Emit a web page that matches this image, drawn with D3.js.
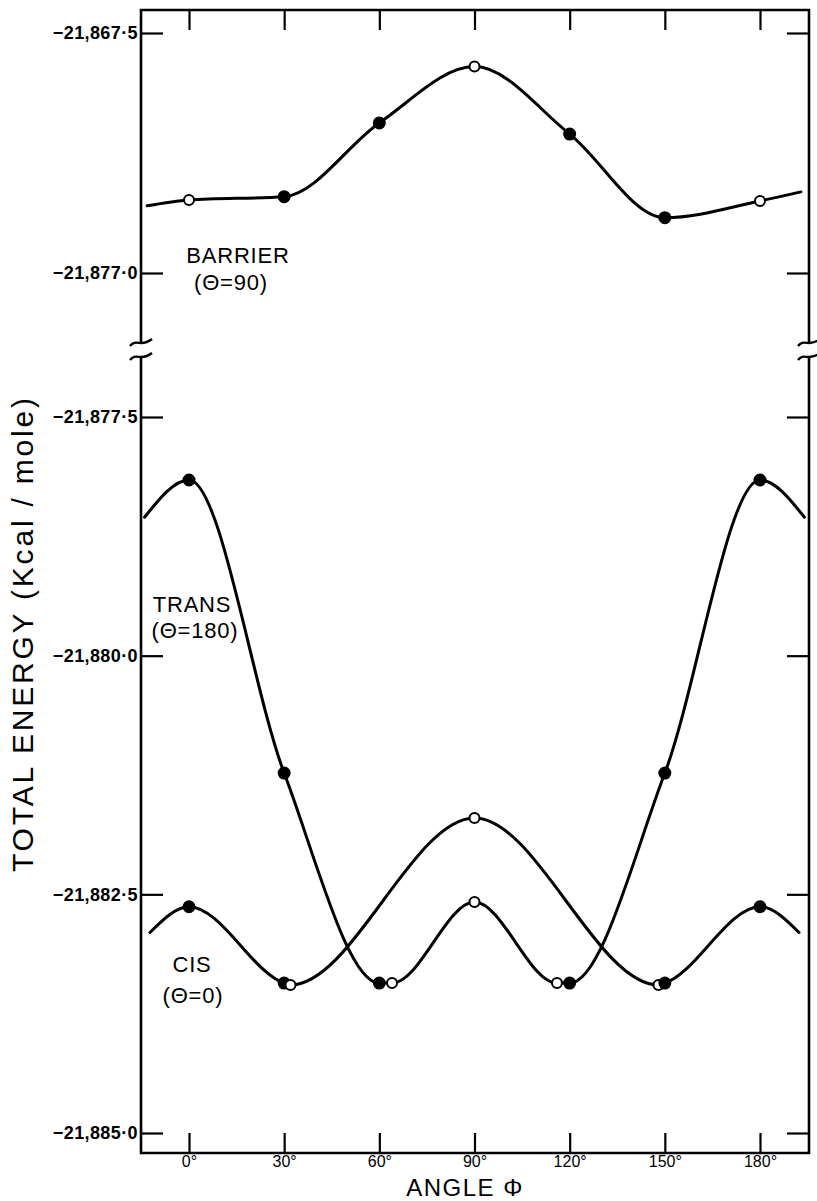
<!DOCTYPE html>
<html>
<head>
<meta charset="utf-8">
<script src="https://cdn.jsdelivr.net/npm/d3@7"></script>
<style>
  html, body { margin: 0; padding: 0; background: #fff; }
  svg { display: block; }
  text { font-family: "Liberation Sans", "DejaVu Sans", sans-serif; fill: #000; }
</style>
</head>
<body>
<svg id="chart" width="817" height="1201"></svg>
<script>
// Torsion angle phi (degrees) at which energies were computed
const angleTicks = [0, 30, 60, 90, 120, 150, 180];

// Energy axis ticks (kcal/mole) for the upper and lower panels
const topTicks = [-21867.5, -21877.0];
const bottomTicks = [-21877.5, -21880.0, -21882.5, -21885.0];

// BARRIER (theta = 90): computed points, open = true for hollow markers
const barrierAngle = [0, 30, 60, 90, 120, 150, 180];
const barrierEnergy = [-21874.11, -21873.98, -21871.06, -21868.83, -21871.50, -21874.81, -21874.15];
const barrierOpen = [true, false, false, true, false, false, true];
// where the drawn curve runs out past the end points
const barrierEndAngle = [-13.2, 192.9];
const barrierEndEnergy = [-21874.34, -21873.79];

// TRANS (theta = 180)
const transAngle = [0, 30, 60, 64, 90, 116, 120, 150, 180];
const transEnergy = [-21878.16, -21881.23, -21883.43, -21883.43, -21882.58, -21883.43, -21883.43, -21881.23, -21878.16];
const transOpen = [false, false, false, true, true, true, false, false, false];
const transEndAngle = [-14, 194];
const transEndEnergy = [-21878.55, -21878.55];

// CIS (theta = 0)
const cisAngle = [0, 30, 32, 90, 148, 150, 180];
const cisEnergy = [-21882.63, -21883.43, -21883.45, -21881.70, -21883.45, -21883.43, -21882.63];
const cisOpen = [false, false, true, true, true, false, false];
const cisEndAngle = [-12.3, 192.3];
const cisEndEnergy = [-21882.90, -21882.90];

// ---- layout ----
const svg = d3.select("#chart");
const frameL = 141, frameR = 809, frameT = 10, frameB = 1153;
const breakTop = 343, breakBottom = 357;

const x = d3.scaleLinear().domain([0, 180]).range([189, 760]);
const yTop = d3.scaleLinear().domain([-21877.0, -21867.5]).range([273, 33]);
const yBot = d3.scaleLinear().domain([-21885.0, -21877.5]).range([1133, 417]);

const fmt = v => d3.format(",.1f")(v).replace(".", "\u00b7");

// ---- frame with axis break ----
const frame = svg.append("g").attr("stroke", "#000").attr("stroke-width", 2.6).attr("fill", "none");
frame.append("path").attr("d", `M${frameL},${breakTop} V${frameT} H${frameR} V${breakTop}`);
frame.append("path").attr("d", `M${frameL},${breakBottom} V${frameB} H${frameR} V${breakBottom}`);

// break marks (small tildes across each vertical axis)
function tilde(cx, cy) {
  return `M${cx - 11},${cy + 3} C${cx - 5},${cy - 5} ${cx},${cy + 5} ${cx + 11},${cy - 4}`;
}
[frameL, frameR].forEach(cx => {
  frame.append("path").attr("d", tilde(cx, breakTop)).attr("stroke-width", 2.4);
  frame.append("path").attr("d", tilde(cx, breakBottom)).attr("stroke-width", 2.4);
});

// ---- axes (inward ticks) ----
function styleAxis(g) {
  g.select(".domain").remove();
  g.selectAll(".tick line").attr("stroke", "#000").attr("stroke-width", 2.2);
}

const leftLabelStyle = g => g.selectAll(".tick text")
  .attr("font-size", 18).attr("font-weight", "bold").attr("letter-spacing", 0.4)
  .attr("font-family", "Liberation Sans, DejaVu Sans, sans-serif");

svg.append("g").attr("transform", `translate(${frameL},0)`)
  .call(d3.axisLeft(yTop).tickValues(topTicks).tickSize(-22).tickPadding(3).tickFormat(fmt))
  .call(styleAxis).call(leftLabelStyle);
svg.append("g").attr("transform", `translate(${frameL},0)`)
  .call(d3.axisLeft(yBot).tickValues(bottomTicks).tickSize(-22).tickPadding(3).tickFormat(fmt))
  .call(styleAxis).call(leftLabelStyle);

svg.append("g").attr("transform", `translate(${frameR},0)`)
  .call(d3.axisRight(yTop).tickValues(topTicks).tickSize(-22).tickFormat(""))
  .call(styleAxis);
svg.append("g").attr("transform", `translate(${frameR},0)`)
  .call(d3.axisRight(yBot).tickValues(bottomTicks).tickSize(-22).tickFormat(""))
  .call(styleAxis);

svg.append("g").attr("transform", `translate(0,${frameT})`)
  .call(d3.axisTop(x).tickValues(angleTicks).tickSize(-20).tickFormat(""))
  .call(styleAxis);
svg.append("g").attr("transform", `translate(0,${frameB})`)
  .call(d3.axisBottom(x).tickValues(angleTicks).tickSize(-20).tickPadding(3).tickFormat(d => d + "\u00b0"))
  .call(styleAxis)
  .call(g => g.selectAll(".tick text").attr("font-size", 16)
    .attr("font-family", "Liberation Sans, DejaVu Sans, sans-serif"));

// ---- axis titles ----
svg.append("text")
  .attr("x", 465).attr("y", 1195.5)
  .attr("text-anchor", "middle")
  .attr("font-size", 24)
  .attr("letter-spacing", 1.5)
  .text("ANGLE  \u03a6");

svg.append("text")
  .attr("transform", "translate(33,635) rotate(-90)")
  .attr("text-anchor", "middle")
  .attr("font-size", 30)
  .attr("textLength", 474).attr("lengthAdjust", "spacing")
  .text("TOTAL  ENERGY  (Kcal / mole)");

// ---- curves and markers ----
function series(angles, energies, opens, endA, endE, y) {
  const pts = angles.map((a, i) => ({ a, e: energies[i], open: opens[i] }));
  const path = [{ a: endA[0], e: endE[0] }, ...pts, { a: endA[1], e: endE[1] }];
  const line = d3.line().x(d => x(d.a)).y(d => y(d.e)).curve(d3.curveMonotoneX);
  svg.append("path").datum(path)
    .attr("d", line)
    .attr("fill", "none").attr("stroke", "#000").attr("stroke-width", 3)
    .attr("stroke-linecap", "round");
  svg.append("g").selectAll("circle").data(pts).join("circle")
    .attr("cx", d => x(d.a)).attr("cy", d => y(d.e))
    .attr("r", d => d.open ? 5 : 5.5)
    .attr("fill", d => d.open ? "#fff" : "#000")
    .attr("stroke", "#000").attr("stroke-width", 2);
}

series(barrierAngle, barrierEnergy, barrierOpen, barrierEndAngle, barrierEndEnergy, yTop);
series(transAngle, transEnergy, transOpen, transEndAngle, transEndEnergy, yBot);
series(cisAngle, cisEnergy, cisOpen, cisEndAngle, cisEndEnergy, yBot);

// ---- curve labels ----
const labels = [
  { t: "BARRIER", x: 238, y: 263 },
  { t: "(\u0398=90)", x: 231, y: 290 },
  { t: "TRANS", x: 192, y: 612 },
  { t: "(\u0398=180)", x: 195, y: 638 },
  { t: "CIS", x: 192, y: 972 },
  { t: "(\u0398=0)", x: 193, y: 1003 }
];
svg.append("g").selectAll("text").data(labels).join("text")
  .attr("x", d => d.x).attr("y", d => d.y)
  .attr("text-anchor", "middle")
  .attr("font-size", 22)
  .attr("letter-spacing", 0.8)
  .text(d => d.t);
</script>
</body>
</html>
